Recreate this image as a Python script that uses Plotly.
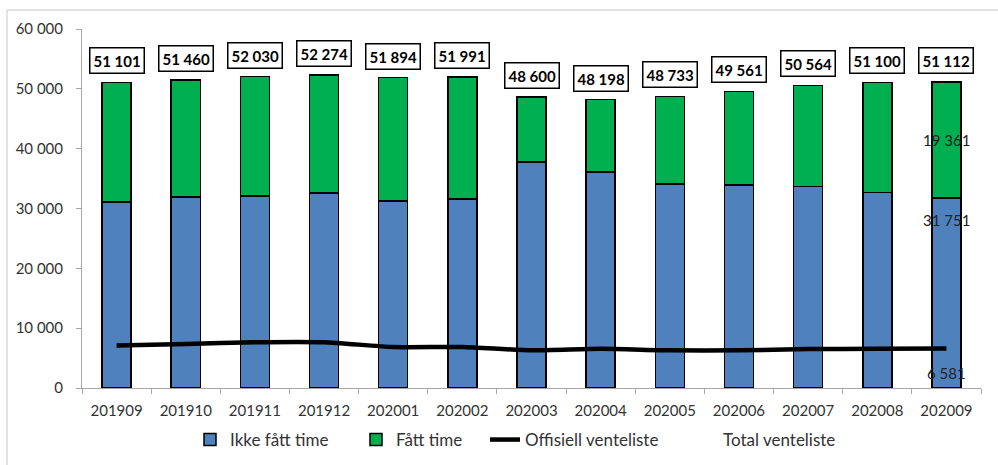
import plotly.graph_objects as go

categories = ["201909", "201910", "201911", "201912", "202001", "202002", "202003",
              "202004", "202005", "202006", "202007", "202008", "202009"]
total = [51101, 51460, 52030, 52274, 51894, 51991, 48600, 48198, 48733, 49561, 50564, 51100, 51112]
ikke_fatt = [31100, 31950, 32100, 32600, 31280, 31600, 37800, 36100, 34100, 33950, 33650, 32650, 31751]
fatt = [t - i for t, i in zip(total, ikke_fatt)]
offisiell = [7100, 7350, 7650, 7650, 6850, 6850, 6300, 6550, 6300, 6300, 6500, 6550, 6581]
y_ticks = [0, 10000, 20000, 30000, 40000, 50000, 60000]

FONT = "Lato, 'Open Sans', sans-serif"


def fmt(v):
    return f"{v:,}".replace(",", " ")


fig = go.Figure()
fig.add_trace(go.Bar(
    x=categories, y=ikke_fatt, name="Ikke fått time", legend="legend",
    marker=dict(color="#4F81BD", line=dict(color="#000000", width=1.5)),
))
fig.add_trace(go.Bar(
    x=categories, y=fatt, name="Fått time", legend="legend2",
    marker=dict(color="#00B050", line=dict(color="#000000", width=1.5)),
))
fig.add_trace(go.Scatter(
    x=categories, y=offisiell, name="Offisiell venteliste", mode="lines", legend="legend3",
    line=dict(color="#000000", width=4.5, shape="spline", smoothing=0.6),
))
fig.add_trace(go.Scatter(
    x=categories, y=total, name="Total venteliste", mode="lines", legend="legend4",
    line=dict(color="rgba(0,0,0,0)", width=0),
))

last = len(categories) - 1
annotations = []
for i, t in enumerate(total):
    annotations.append(dict(
        x=i, y=t, xref="x", yref="y", text=f"<b>{fmt(t)}</b>", showarrow=False,
        yanchor="bottom", yshift=8,
        font=dict(family=FONT, size=15, color="#000000"),
        bordercolor="#000000", borderwidth=1.5, borderpad=3, bgcolor="#FFFFFF",
    ))
annotations.append(dict(
    x=last, y=ikke_fatt[-1] + fatt[-1] / 2, xref="x", yref="y",
    text=fmt(fatt[-1]), showarrow=False, yanchor="middle",
    font=dict(family=FONT, size=15, color="#222222"),
))
annotations.append(dict(
    x=last, y=ikke_fatt[-1], xref="x", yref="y",
    text=fmt(ikke_fatt[-1]), showarrow=False, yanchor="top", yshift=-11,
    font=dict(family=FONT, size=15, color="#222222"),
))
annotations.append(dict(
    x=last, y=offisiell[-1], xref="x", yref="y",
    text=fmt(offisiell[-1]), showarrow=False, yanchor="top", yshift=-13,
    font=dict(family=FONT, size=15, color="#222222"),
))

W, H = 998, 465
L, R, T, B = 82, 17, 29, 77
pw, ph = W - L - R, H - T - B
shapes = [
    dict(type="line", xref="paper", yref="paper",
         x0=(7 - L) / pw, x1=(998 - L) / pw, y0=1 + (T - 10) / ph, y1=1 + (T - 10) / ph,
         line=dict(color="#D9D9D9", width=1.5)),
    dict(type="line", xref="paper", yref="paper",
         x0=(7 - L) / pw, x1=(7 - L) / pw, y0=1 + (T - 10) / ph, y1=-(B + 5) / ph,
         line=dict(color="#D9D9D9", width=1.5)),
]


def legend_at(px):
    return dict(orientation="h", x=(px - L) / pw, xanchor="left", y=-(440 - (T + ph)) / ph,
                yanchor="middle", font=dict(family=FONT, size=17, color="#333333"),
                itemwidth=30, bgcolor="rgba(0,0,0,0)", borderwidth=0)


fig.update_layout(
    width=W, height=H,
    margin=dict(l=L, r=R, t=T, b=B, pad=0, autoexpand=False),
    barmode="stack", bargap=0.58,
    plot_bgcolor="#FFFFFF", paper_bgcolor="#FFFFFF",
    separators=", ",
    font=dict(family=FONT, size=15, color="#333333"),
    showlegend=True,
    legend=legend_at(190),
    legend2=legend_at(356),
    legend3=legend_at(485),
    legend4=legend_at(683),
    annotations=annotations,
    shapes=shapes,
)
fig.update_xaxes(
    type="category", range=[-0.5, last + 0.5], showline=True, linecolor="#A6A6A6", linewidth=1,
    ticks="outside", tickson="boundaries", ticklen=5, tickcolor="#A6A6A6",
    showgrid=False, tickangle=0, ticklabelstandoff=9, automargin=False,
    tickfont=dict(family=FONT, size=15, color="#333333"),
)
fig.update_yaxes(
    range=[0, 60000], tickvals=y_ticks, tickformat=",d",
    showline=True, linecolor="#A6A6A6", linewidth=1,
    ticks="outside", ticklen=5, tickcolor="#A6A6A6", showgrid=False, zeroline=False,
    ticklabelstandoff=10, automargin=False,
    tickfont=dict(family=FONT, size=15, color="#333333"),
)

fig.write_html("out.html")
